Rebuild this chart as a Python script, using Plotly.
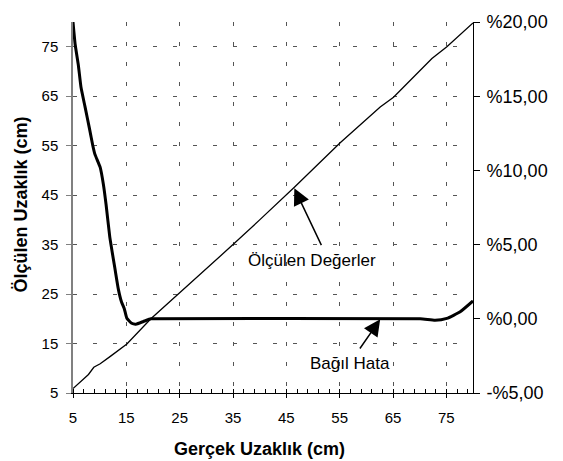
import plotly.graph_objects as go

# Measured distance (left axis)
meas_x = [5, 6, 6.9, 7.9, 8.9, 10.1, 12, 15.1, 19.6, 28.8, 35, 40, 46.6, 55.1, 62.6, 65.1, 72.3, 75.1, 80]
meas_y = [5.9, 6.9, 7.9, 8.75, 10.2, 10.9, 12.4, 14.9, 20.0, 28.9, 35, 40, 46.7, 55.6, 62.8, 64.8, 72.6, 75, 79.8]

# Relative error in % (right axis)
err_x = [5, 5.4, 6, 6.5, 7.25, 8.1, 8.7, 9.1, 10.1, 10.7, 11.2, 11.9, 12.9, 13.5, 14.1, 14.6, 15.1, 16, 16.8, 18.2, 19.6, 20, 70.1, 72.9, 75.1, 77.6, 80]
err_y = [20, 18.5, 17.1, 15.6, 14.3, 12.8, 11.7, 11.1, 10.2, 9.05, 7.7, 5.5, 3.3, 2.0, 1.13, 0.7, 0.03, -0.3, -0.36, -0.18, 0.0, 0.0, 0.0, -0.1, 0.03, 0.47, 1.2]

x_ticks = [5, 15, 25, 35, 45, 55, 65, 75]
y_ticks = [5, 15, 25, 35, 45, 55, 65, 75]
y2_ticks = [-5, 0, 5, 10, 15, 20]
y2_labels = ["-%5,00", "%0,00", "%5,00", "%10,00", "%15,00", "%20,00"]

FONT = "Liberation Sans, Arial, sans-serif"

fig = go.Figure()
fig.add_trace(go.Scatter(x=meas_x, y=meas_y, mode="lines", line=dict(color="black", width=1.3),
                         name="Ölçülen Değerler", showlegend=False))
fig.add_trace(go.Scatter(x=err_x, y=err_y, mode="lines", line=dict(color="black", width=3, shape="spline", smoothing=0.4),
                         name="Bağıl Hata", yaxis="y2", showlegend=False))

grid = dict(showgrid=True, gridcolor="#555555", gridwidth=1, griddash="4px,16px")

fig.update_layout(
    width=563, height=461,
    margin=dict(l=73, r=90, t=13, b=68),
    paper_bgcolor="white", plot_bgcolor="white",
    font=dict(family=FONT, color="black", size=15),
    xaxis=dict(range=[5, 80], tickvals=x_ticks, ticks="outside", ticklen=4, tickcolor="black",
               showline=True, linecolor="black", linewidth=1, zeroline=False,
               minor=dict(dtick=2, tick0=5, ticks="inside", ticklen=4, tickcolor="black", showgrid=False),
               ticklabelstandoff=7, tickfont=dict(size=15), **grid),
    yaxis=dict(range=[5, 80], tickvals=y_ticks, ticks="outside", ticklen=5, tickcolor="#808080",
               showline=True, linecolor="#808080", linewidth=1.5, zeroline=False,
               ticklabelstandoff=5, tickfont=dict(size=15), **grid),
    yaxis2=dict(range=[-5, 20], tickvals=y2_ticks, ticktext=y2_labels, overlaying="y", side="right",
                ticks="outside", ticklen=6, tickcolor="black", showline=True, linecolor="black",
                linewidth=1, showgrid=False, zeroline=False, ticklabelstandoff=3,
                tickfont=dict(size=18)),
)

# axis titles
fig.add_annotation(text="<b>Gerçek Uzaklık (cm)</b>", xref="paper", yref="paper", x=0.465, y=-0.152,
                   showarrow=False, font=dict(size=18), xanchor="center", yanchor="middle")
fig.add_annotation(text="<b>Ölçülen Uzaklık (cm)</b>", xref="paper", yref="paper", x=-0.13, y=0.508,
                   showarrow=False, font=dict(size=18), textangle=-90, xanchor="center", yanchor="middle")

# labels
fig.add_annotation(text="Ölçülen Değerler", x=49.8, y=31.8, xref="x", yref="y", showarrow=False,
                   font=dict(size=17))
fig.add_annotation(text="Bağıl Hata", x=56.9, y=10.9, xref="x", yref="y", showarrow=False,
                   font=dict(size=17))
# arrows
fig.add_annotation(text="", x=46.5, y=46.4, ax=51.7, ay=34.6, xref="x", yref="y", axref="x", ayref="y",
                   showarrow=True, arrowhead=2, arrowsize=2.2, arrowwidth=1.5, arrowcolor="black")
fig.add_annotation(text="", x=62.6, y=19.9, ax=58.6, ay=13.7, xref="x", yref="y", axref="x", ayref="y",
                   showarrow=True, arrowhead=2, arrowsize=2.2, arrowwidth=1.5, arrowcolor="black")

fig.write_html("out.html", config={"displayModeBar": False},
               post_script="document.body.style.margin='0';document.body.style.overflow='hidden';")
